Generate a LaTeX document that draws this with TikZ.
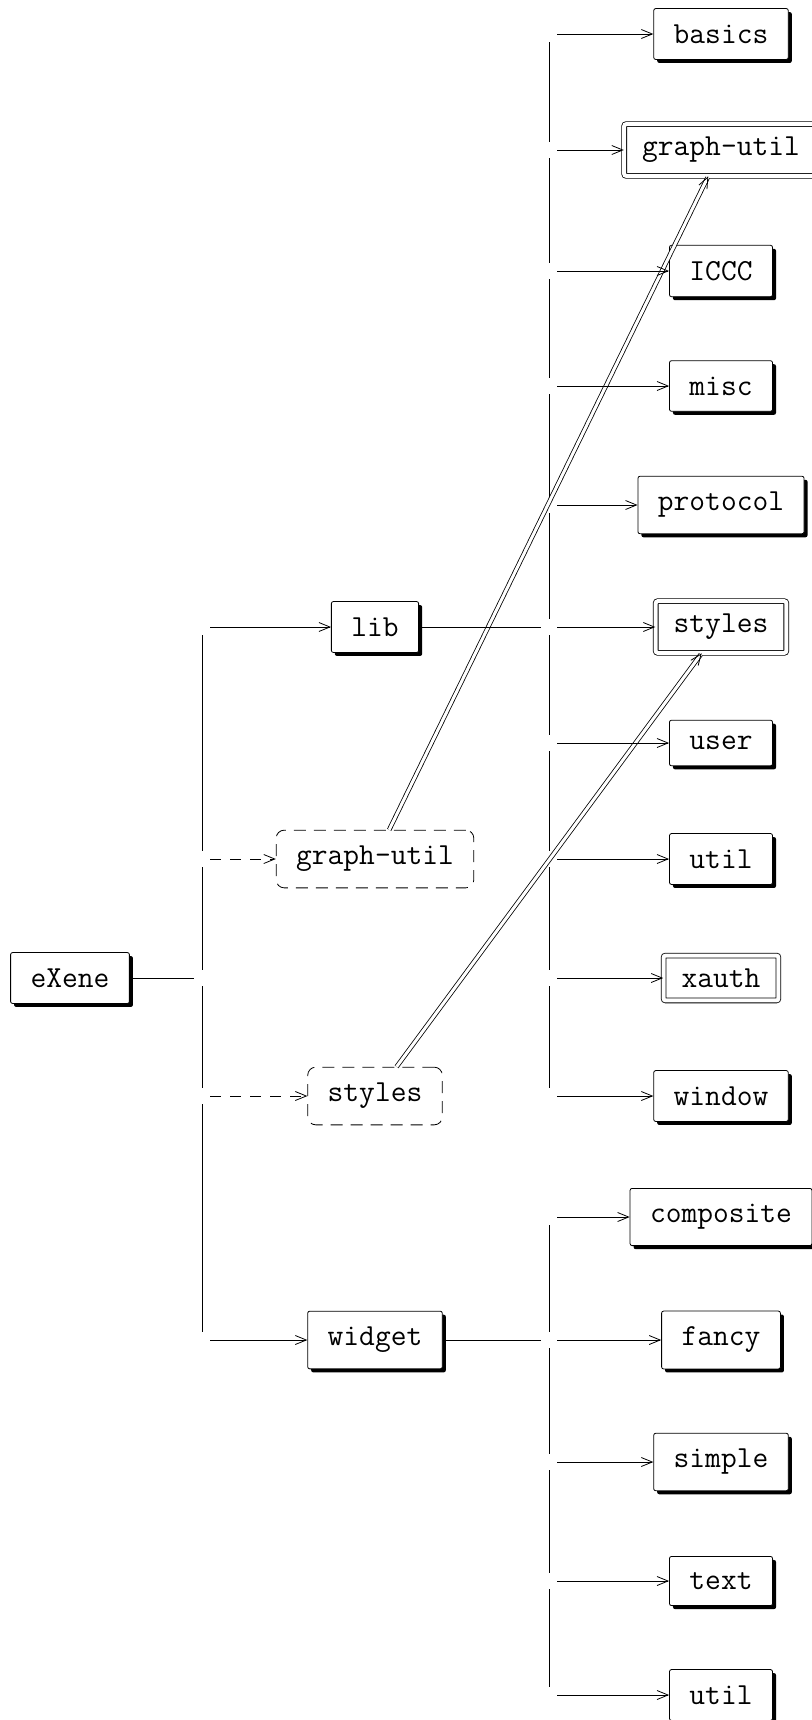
\documentclass[tikz,border=0pt]{standalone}
\usepackage{fontspec}
\usepackage{tikz}
\usetikzlibrary{arrows.meta,shadows}

\newcommand{\modfont}{\fontsize{15.3}{18}\selectfont\ttfamily}

\tikzset{
  mod/.style={draw, fill=white, rounded corners=1pt, inner xsep=10pt, inner ysep=8pt,
    drop shadow={shadow xshift=1.75pt, shadow yshift=-1.75pt, fill=black, opacity=1},
    font=\modfont},
  sig/.style={draw, double, double distance=2pt, rounded corners=1pt, fill=white,
    inner xsep=9pt, inner ysep=6.5pt, font=\modfont},
  grp/.style={draw, dash pattern=on 6pt off 4pt, rounded corners=4pt, inner xsep=10pt,
    inner ysep=8pt, font=\modfont},
  tip/.style={-{Straight Barb[length=5.5pt,width=4.5pt]}},
  bus/.style={shorten <=4pt, shorten >=4pt},
  branch/.style={tip, shorten <=4pt},
  opt/.style={branch, dash pattern=on 5.5pt off 4.5pt},
  inc/.style={shorten >=4pt},
  share/.style={tip, double, double distance=1.5pt}
}

\begin{document}
\begin{tikzpicture}[x=0.5pt,y=-0.5pt]
\useasboundingbox (0,0) rectangle (812,1720);
% level 1 and 2
\node[mod] (exene) at (70,978) {eXene};
\node[mod] (lib) at (375,627) {lib};
\node[grp] (gutil) at (375,859) {graph-util};
\node[grp] (sty) at (375,1096) {styles};
\node[mod] (widget) at (375,1340) {widget};
% lib parts
\node[mod] (basics) at (721,34) {basics};
\node[sig] (libgutil) at (721,150) {graph-util};
\node[mod] (iccc) at (721,271) {ICCC};
\node[mod] (misc) at (721,386) {misc};
\node[mod] (protocol) at (721,505) {protocol};
\node[sig] (libsty) at (721,627) {styles};
\node[mod] (user) at (721,743) {user};
\node[mod] (libutil) at (721,859) {util};
\node[sig] (xauth) at (721,978) {xauth};
\node[mod] (window) at (721,1096) {window};
% widget parts
\node[mod] (composite) at (721,1217) {composite};
\node[mod] (fancy) at (721,1340) {fancy};
\node[mod] (simple) at (721,1462) {simple};
\node[mod] (text) at (721,1581) {text};
\node[mod] (wutil) at (721,1695) {util};

\draw[share] (gutil) -- (libgutil);
\draw[share] (sty) -- (libsty);

% bus points
\coordinate (k5) at (202,627);
\coordinate (k7) at (202,859);
\coordinate (k8) at (202,978);
\coordinate (k9) at (202,1096);
\coordinate (k11) at (202,1340);
\foreach \i/\y in {0/34,1/150,2/271,3/386,4/505,5/627,6/743,7/859,8/978,9/1096,
                   10/1217,11/1340,12/1462,13/1581,14/1695}
  \coordinate (j\i) at (549,\y);

\draw[inc] (exene) -- (k8);
\draw[bus] (k5) -- (k7);
\draw[bus] (k7) -- (k8);
\draw[bus] (k8) -- (k9);
\draw[bus] (k9) -- (k11);
\draw[branch] (k5) -- (lib);
\draw[opt] (k7) -- (gutil);
\draw[opt] (k9) -- (sty);
\draw[branch] (k11) -- (widget);

\draw[inc] (lib) -- (j5);
\foreach \a/\b in {0/1,1/2,2/3,3/4,4/5,5/6,6/7,7/8,8/9}
  \draw[bus] (j\a) -- (j\b);
\draw[branch] (j0) -- (basics);
\draw[branch] (j1) -- (libgutil);
\draw[branch] (j2) -- (iccc);
\draw[branch] (j3) -- (misc);
\draw[branch] (j4) -- (protocol);
\draw[branch] (j5) -- (libsty);
\draw[branch] (j6) -- (user);
\draw[branch] (j7) -- (libutil);
\draw[branch] (j8) -- (xauth);
\draw[branch] (j9) -- (window);

\draw[inc] (widget) -- (j11);
\foreach \a/\b in {10/11,11/12,12/13,13/14}
  \draw[bus] (j\a) -- (j\b);
\draw[branch] (j10) -- (composite);
\draw[branch] (j11) -- (fancy);
\draw[branch] (j12) -- (simple);
\draw[branch] (j13) -- (text);
\draw[branch] (j14) -- (wutil);
\end{tikzpicture}
\end{document}
